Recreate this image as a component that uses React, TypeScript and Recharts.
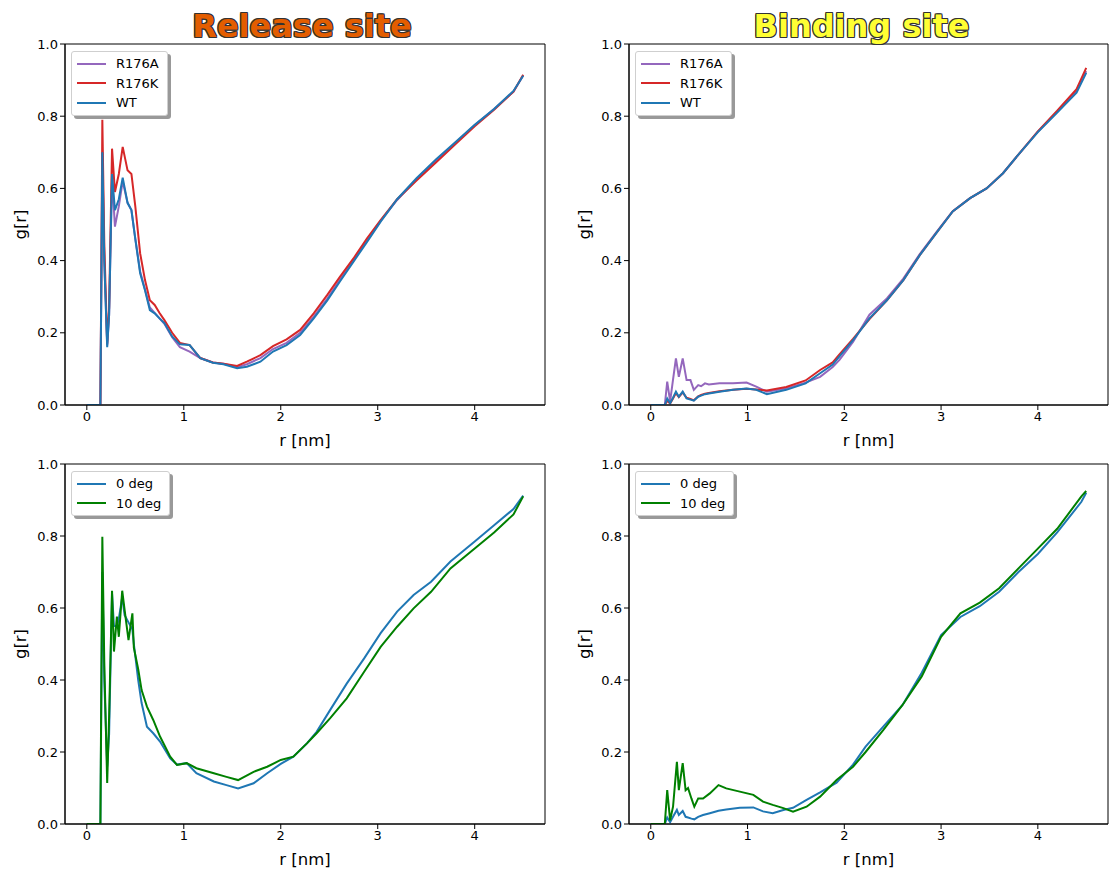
import React from 'react';
import { LineChart, Line, XAxis, YAxis, Legend, ReferenceArea } from 'recharts';

// Release site (top left)
const releaseR = [0, 0.14, 0.15, 0.16, 0.18, 0.21, 0.23, 0.26, 0.29, 0.33, 0.37, 0.42, 0.46, 0.5, 0.55, 0.6, 0.65, 0.7, 0.75, 0.8, 0.88, 0.96, 1.06, 1.17, 1.3, 1.41, 1.55, 1.65, 1.79, 1.92, 2.06, 2.2, 2.34, 2.48, 2.61, 2.75, 2.89, 3.03, 3.2, 3.4, 3.6, 3.8, 4.0, 4.2, 4.4, 4.5];
const releaseR176A = [0, 0, 0.35, 0.7, 0.4, 0.165, 0.25, 0.63, 0.494, 0.55, 0.62, 0.56, 0.54, 0.46, 0.37, 0.32, 0.27, 0.255, 0.24, 0.225, 0.188, 0.16, 0.148, 0.13, 0.118, 0.114, 0.105, 0.113, 0.13, 0.155, 0.172, 0.2, 0.245, 0.295, 0.347, 0.401, 0.456, 0.51, 0.568, 0.625, 0.676, 0.725, 0.775, 0.82, 0.868, 0.913];
const releaseR176K = [0, 0, 0.38, 0.79, 0.45, 0.17, 0.27, 0.71, 0.59, 0.64, 0.715, 0.65, 0.64, 0.55, 0.42, 0.346, 0.29, 0.277, 0.255, 0.235, 0.2, 0.172, 0.166, 0.13, 0.118, 0.114, 0.108, 0.12, 0.138, 0.163, 0.182, 0.208, 0.254, 0.305, 0.355, 0.406, 0.462, 0.512, 0.57, 0.622, 0.672, 0.722, 0.772, 0.818, 0.868, 0.915];
const releaseWT = [0, 0, 0.35, 0.7, 0.4, 0.16, 0.25, 0.64, 0.54, 0.57, 0.63, 0.56, 0.54, 0.46, 0.365, 0.318, 0.263, 0.254, 0.24, 0.227, 0.19, 0.168, 0.166, 0.13, 0.117, 0.113, 0.102, 0.106, 0.12, 0.148, 0.166, 0.194, 0.24, 0.29, 0.342, 0.397, 0.452, 0.508, 0.57, 0.628, 0.68, 0.728, 0.776, 0.82, 0.87, 0.912];

// Binding site (top right)
const bindingR = [0, 0.145, 0.17, 0.2, 0.23, 0.26, 0.29, 0.33, 0.37, 0.41, 0.445, 0.49, 0.52, 0.56, 0.6, 0.71, 0.85, 0.99, 1.09, 1.2, 1.4, 1.6, 1.75, 1.88, 1.95, 2.09, 2.26, 2.44, 2.61, 2.78, 2.95, 3.12, 3.3, 3.47, 3.64, 3.81, 4.0, 4.2, 4.4, 4.5];
const bindingR176A = [0, 0, 0.065, 0.01, 0.07, 0.129, 0.078, 0.129, 0.069, 0.069, 0.042, 0.055, 0.052, 0.06, 0.057, 0.06, 0.06, 0.062, 0.051, 0.037, 0.046, 0.062, 0.078, 0.105, 0.125, 0.175, 0.25, 0.295, 0.35, 0.418, 0.478, 0.537, 0.573, 0.6, 0.642, 0.697, 0.757, 0.812, 0.87, 0.925];
const bindingR176K = [0, 0, 0.012, 0.004, 0.018, 0.033, 0.022, 0.035, 0.02, 0.017, 0.013, 0.024, 0.028, 0.031, 0.033, 0.038, 0.042, 0.045, 0.043, 0.04, 0.05, 0.068, 0.097, 0.118, 0.14, 0.183, 0.238, 0.29, 0.346, 0.415, 0.476, 0.536, 0.573, 0.6, 0.642, 0.697, 0.758, 0.815, 0.875, 0.934];
const bindingWT = [0, 0, 0.018, 0.005, 0.02, 0.037, 0.023, 0.037, 0.018, 0.015, 0.012, 0.023, 0.026, 0.03, 0.032, 0.037, 0.042, 0.046, 0.042, 0.03, 0.042, 0.06, 0.088, 0.112, 0.135, 0.18, 0.24, 0.29, 0.346, 0.415, 0.476, 0.536, 0.573, 0.6, 0.642, 0.697, 0.756, 0.81, 0.865, 0.92];

// Release site, tilt angles (bottom left)
const releaseTiltR = [0, 0.14, 0.16, 0.18, 0.21, 0.23, 0.26, 0.28, 0.31, 0.33, 0.365, 0.39, 0.43, 0.47, 0.485, 0.53, 0.565, 0.62, 0.685, 0.755, 0.86, 0.93, 1.03, 1.13, 1.31, 1.44, 1.56, 1.72, 1.86, 2.0, 2.13, 2.27, 2.37, 2.51, 2.68, 2.86, 3.03, 3.2, 3.37, 3.55, 3.75, 4.0, 4.2, 4.4, 4.5];
const releaseDeg0 = [0, 0, 0.7, 0.4, 0.16, 0.25, 0.64, 0.55, 0.55, 0.57, 0.63, 0.58, 0.56, 0.54, 0.5, 0.4, 0.336, 0.27, 0.252, 0.229, 0.182, 0.165, 0.169, 0.141, 0.118, 0.108, 0.099, 0.113, 0.141, 0.167, 0.187, 0.224, 0.256, 0.317, 0.39, 0.46, 0.53, 0.59, 0.636, 0.673, 0.729, 0.785, 0.83, 0.875, 0.912];
const releaseDeg10 = [0, 0, 0.798, 0.45, 0.114, 0.3, 0.648, 0.479, 0.576, 0.52, 0.648, 0.594, 0.511, 0.585, 0.49, 0.43, 0.372, 0.326, 0.289, 0.243, 0.187, 0.164, 0.169, 0.155, 0.141, 0.131, 0.122, 0.145, 0.159, 0.178, 0.187, 0.224, 0.252, 0.294, 0.349, 0.423, 0.492, 0.548, 0.599, 0.645, 0.71, 0.765, 0.81, 0.86, 0.91];

// Binding site, tilt angles (bottom right)
const bindingTiltR = [0, 0.145, 0.17, 0.2, 0.23, 0.27, 0.29, 0.33, 0.36, 0.385, 0.42, 0.45, 0.49, 0.54, 0.61, 0.7, 0.78, 0.92, 1.06, 1.16, 1.26, 1.37, 1.47, 1.61, 1.75, 1.92, 2.09, 2.22, 2.4, 2.6, 2.8, 3.0, 3.2, 3.4, 3.6, 3.8, 4.0, 4.2, 4.45, 4.5];
const bindingDeg0 = [0, 0, 0.018, 0.005, 0.02, 0.039, 0.025, 0.036, 0.02, 0.018, 0.015, 0.013, 0.02, 0.025, 0.03, 0.037, 0.04, 0.045, 0.046, 0.035, 0.03, 0.039, 0.045, 0.067, 0.088, 0.115, 0.165, 0.215, 0.27, 0.33, 0.42, 0.525, 0.575, 0.605, 0.645, 0.7, 0.75, 0.81, 0.895, 0.92];
const bindingDeg10 = [0, 0, 0.094, 0.01, 0.048, 0.173, 0.094, 0.169, 0.094, 0.1, 0.071, 0.048, 0.071, 0.071, 0.085, 0.108, 0.099, 0.09, 0.081, 0.062, 0.053, 0.044, 0.034, 0.048, 0.076, 0.122, 0.159, 0.2, 0.26, 0.33, 0.41, 0.52, 0.585, 0.615, 0.655, 0.71, 0.765, 0.82, 0.91, 0.925];

const xTicks = [0, 1, 2, 3, 4];
const yTicks = [0, 0.2, 0.4, 0.6, 0.8, 1.0];
const X_MIN = -0.225;
const X_MAX = 4.725;

const FONT = '"DejaVu Sans", Verdana, sans-serif';
const PURPLE = '#9467bd';
const RED = '#d62728';
const BLUE = '#1f77b4';
const GREEN = '#008000';

type Series = { key: string; name: string; color: string; values: number[] };

interface PanelProps {
    left: number;
    top: number;
    width: number;
    height: number;
    r: number[];
    series: Series[];
    title?: string;
    titleColor?: string;
}

const Panel: React.FC<PanelProps> = ({ left, top, width, height, r, series, title, titleColor }) => {
    const rows = r.map((x, i) => {
        const row: Record<string, number> = { r: x };
        series.forEach(s => { row[s.key] = s.values[i]; });
        return row;
    });

    const renderLegend = () => (
        <div style={{
            display: 'inline-block',
            background: '#fff',
            border: '1px solid #cfcfcf',
            borderRadius: 3,
            boxShadow: '3px 3px 0 rgba(0,0,0,0.4)',
            padding: '2px 8px 2px 5px',
            fontFamily: FONT,
            fontSize: 13,
            color: '#000',
            whiteSpace: 'nowrap',
        }}>
            {series.map(s => (
                <div key={s.key} style={{ display: 'flex', alignItems: 'center', height: 19.5 }}>
                    <span style={{ display: 'inline-block', width: 29, borderTop: `2px solid ${s.color}`, marginRight: 10 }} />
                    {s.name}
                </div>
            ))}
        </div>
    );

    const axisTick = { fill: '#000', fontSize: 13, fontFamily: FONT };

    return (
        <div style={{ position: 'absolute', left, top, width, height }}>
            {title && (
                <div style={{
                    position: 'absolute', left: 57, top: 6, width: width - 65, textAlign: 'center',
                    fontFamily: FONT, fontWeight: 'bold', fontSize: 32, lineHeight: '40px', color: titleColor,
                    textShadow: '1px 0 0 #333, -1px 0 0 #333, 0 1px 0 #333, 0 -1px 0 #333, 1px 1px 0 #333, -1px -1px 0 #333, 1px -1px 0 #333, -1px 1px 0 #333',
                    zIndex: 2,
                }}>
                    {title}
                </div>
            )}
            <LineChart width={width} height={height} data={rows} margin={{ top: 44, right: width - 545 > 2 ? 10 : 2, left: 0, bottom: 0 }}>
                <XAxis
                    type="number"
                    dataKey="r"
                    domain={[X_MIN, X_MAX]}
                    ticks={xTicks}
                    allowDataOverflow
                    height={45}
                    tickSize={5}
                    tickMargin={2}
                    tick={axisTick}
                    stroke="#000"
                    label={{ value: 'r [nm]', position: 'insideBottom', offset: 4, fill: '#000', fontSize: 16.5, fontFamily: FONT }}
                />
                <YAxis
                    type="number"
                    domain={[0, 1]}
                    ticks={yTicks}
                    allowDataOverflow
                    width={65}
                    tickSize={5}
                    tickMargin={2}
                    tick={axisTick}
                    tickFormatter={(v: number) => v.toFixed(1)}
                    stroke="#000"
                    label={{ value: 'g[r]', angle: -90, position: 'center', dx: -12, fill: '#000', fontSize: 16.5, fontFamily: FONT }}
                />
                <ReferenceArea x1={X_MIN} x2={X_MAX} y1={0} y2={1} fill="none" stroke="#000" strokeWidth={1} ifOverflow="visible" />
                <Legend
                    layout="vertical"
                    align="center"
                    verticalAlign="middle"
                    content={renderLegend}
                    wrapperStyle={{ left: 71, top: 51, width: 'auto', height: 'auto' }}
                />
                {series.map(s => (
                    <Line
                        key={s.key}
                        type="linear"
                        dataKey={s.key}
                        name={s.name}
                        stroke={s.color}
                        strokeWidth={2}
                        dot={false}
                        activeDot={false}
                        isAnimationActive={false}
                    />
                ))}
            </LineChart>
        </div>
    );
};

const App: React.FC = () => {
    return (
        <div style={{ position: 'absolute', left: 0, top: 0, width: 1110, height: 869, background: '#fff' }}>
            <Panel
                left={0} top={420} width={555} height={449}
                r={releaseTiltR}
                series={[
                    { key: 'deg0', name: '0 deg', color: BLUE, values: releaseDeg0 },
                    { key: 'deg10', name: '10 deg', color: GREEN, values: releaseDeg10 },
                ]}
            />
            <Panel
                left={564} top={420} width={546} height={449}
                r={bindingTiltR}
                series={[
                    { key: 'deg0', name: '0 deg', color: BLUE, values: bindingDeg0 },
                    { key: 'deg10', name: '10 deg', color: GREEN, values: bindingDeg10 },
                ]}
            />
            <Panel
                left={0} top={0} width={555} height={450}
                r={releaseR}
                title="Release site"
                titleColor="#e35d00"
                series={[
                    { key: 'a', name: 'R176A', color: PURPLE, values: releaseR176A },
                    { key: 'k', name: 'R176K', color: RED, values: releaseR176K },
                    { key: 'wt', name: 'WT', color: BLUE, values: releaseWT },
                ]}
            />
            <Panel
                left={564} top={0} width={546} height={450}
                r={bindingR}
                title="Binding site"
                titleColor="#ffff33"
                series={[
                    { key: 'a', name: 'R176A', color: PURPLE, values: bindingR176A },
                    { key: 'k', name: 'R176K', color: RED, values: bindingR176K },
                    { key: 'wt', name: 'WT', color: BLUE, values: bindingWT },
                ]}
            />
        </div>
    );
};

export default App;
